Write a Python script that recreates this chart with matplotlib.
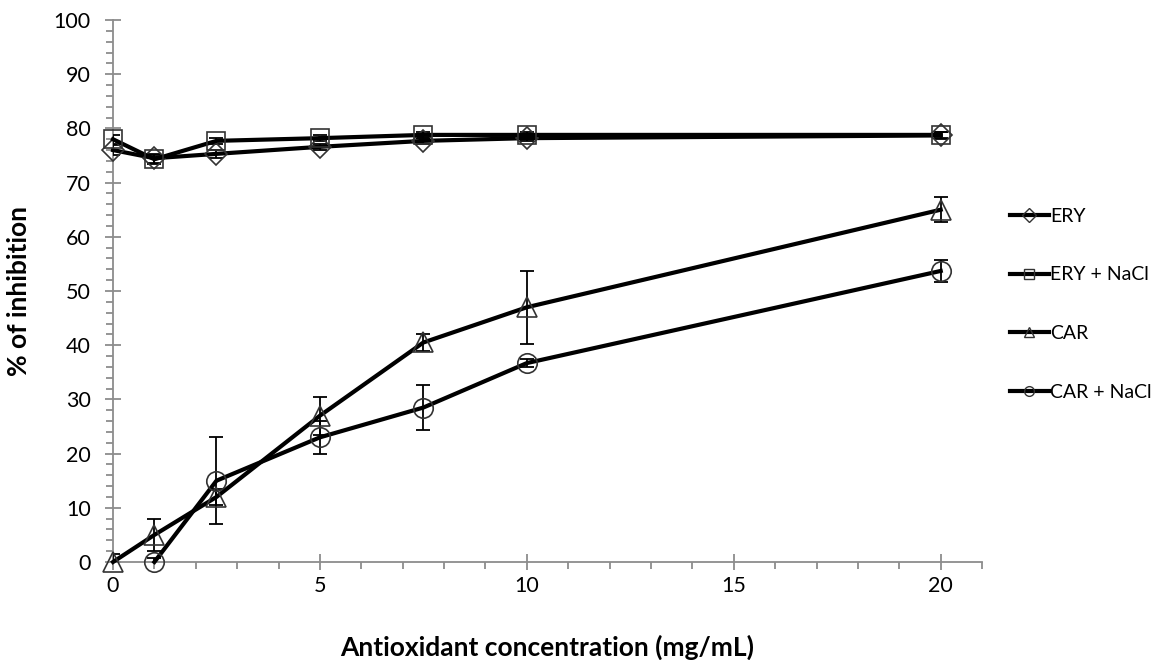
import matplotlib
matplotlib.use("Agg")
from matplotlib import pyplot as plt
from matplotlib.lines import Line2D
from matplotlib.ticker import MultipleLocator

plt.rcParams['font.family'] = ['Lato', 'DejaVu Sans']

tick_sz = 15.5
label_sz = 19
legend_sz = 14
axis_grey = "#8c8c8c"

# concentrations (mg/mL)
conc = [0, 1, 2.5, 5, 7.5, 10, 20]
conc_car_nacl = [1, 2.5, 5, 7.5, 10, 20]

ery = [76.0, 74.5, 75.3, 76.6, 77.7, 78.2, 78.7]
ery_err = [1.0, 0.8, 0.8, 0.6, 0.6, 0.5, 0.6]

ery_nacl = [78.0, 74.3, 77.7, 78.2, 78.8, 78.8, 78.8]
ery_nacl_err = [0.8, 0.8, 0.6, 0.6, 0.5, 0.5, 0.6]

car = [0.0, 5.0, 12.0, 27.0, 40.5, 47.0, 65.0]
car_err = [1.5, 3.0, 1.5, 3.5, 1.5, 6.7, 2.3]

car_nacl = [0.0, 15.0, 23.0, 28.5, 36.7, 53.7]
car_nacl_err = [0.8, 8.0, 3.0, 4.2, 0.8, 2.0]

series = [
    ("ERY", conc, ery, ery_err, "D", 11),
    ("ERY + NaCl", conc, ery_nacl, ery_nacl_err, "s", 13.5),
    ("CAR", conc, car, car_err, "^", 15),
    ("CAR + NaCl", conc_car_nacl, car_nacl, car_nacl_err, "o", 14),
]

fig = plt.figure(figsize=(11.7, 6.6), dpi=100)
ax = fig.add_axes([0.0966, 0.1485, 0.7428, 0.8212])

handles = []
for name, xs, ys, es, mk, ms in series:
    ax.errorbar(xs, ys, yerr=es, fmt="none", ecolor="black",
                elinewidth=1.3, capsize=5, capthick=1.3, zorder=3)
    ax.plot(xs, ys, color="black", linewidth=3, marker=mk, markersize=ms,
            markerfacecolor="none", markeredgecolor="#333333",
            markeredgewidth=1.2, zorder=4, clip_on=False)
    handles.append(Line2D([], [], color="black", linewidth=3, marker=mk,
                          markersize=7, markerfacecolor="none",
                          markeredgecolor="#333333", markeredgewidth=1.0,
                          label=name))

ax.set_xlim(0, 21)
ax.set_ylim(0, 100)
ax.xaxis.set_major_locator(MultipleLocator(5))
ax.xaxis.set_minor_locator(MultipleLocator(1))
ax.yaxis.set_major_locator(MultipleLocator(10))
ax.yaxis.set_minor_locator(MultipleLocator(2))

for s in ["top", "right"]:
    ax.spines[s].set_visible(False)
for s in ["left", "bottom"]:
    ax.spines[s].set_color(axis_grey)
    ax.spines[s].set_linewidth(1.3)

ax.tick_params(axis="both", which="major", direction="inout", length=12,
               width=1.3, color=axis_grey, labelsize=tick_sz)
ax.tick_params(axis="y", which="major", pad=10)
ax.tick_params(axis="x", which="major", pad=4)
ax.tick_params(axis="both", which="minor", direction="out", length=5,
               width=1.3, color=axis_grey)

ax.set_xlabel("Antioxidant concentration (mg/mL)", fontsize=label_sz,
              fontweight="bold", labelpad=28)
ax.set_ylabel("% of inhibition", fontsize=label_sz, fontweight="bold",
              labelpad=16)

fig.legend(handles=handles, loc="upper left", bbox_to_anchor=(0.848, 0.712),
           frameon=False, fontsize=legend_sz, handlelength=2.0,
           handletextpad=0.1, labelspacing=2.15)

plt.savefig("out.png", dpi=100)
